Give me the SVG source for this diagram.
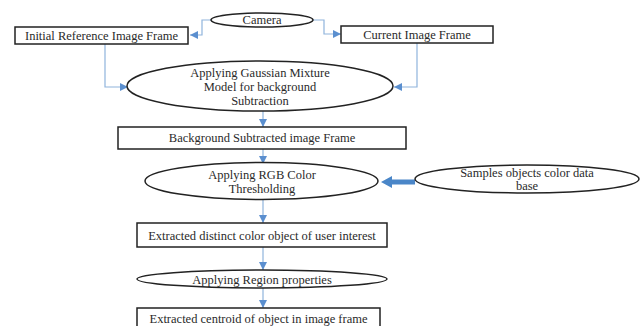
<svg xmlns="http://www.w3.org/2000/svg" width="643" height="326" viewBox="0 0 643 326">
  <style>
    .box { fill: #ffffff; stroke: #222222; stroke-width: 1.5; }
    .oval { fill: #ffffff; stroke: #222222; stroke-width: 1.5; }
    .lbl { font-family: "Liberation Serif", "Times New Roman", serif; font-size: 12.5px; fill: #2a2a2a; text-anchor: middle; }
    .wire { fill: none; stroke: #8fb4dc; stroke-width: 1.2; marker-end: url(#tip); }
  </style>
  <defs>
    <marker id="tip" viewBox="0 0 10 10" refX="10" refY="5" markerWidth="8" markerHeight="8" markerUnits="userSpaceOnUse" orient="auto">
      <path d="M0,0 L10,5 L0,10 z" fill="#5b8fcf"/>
    </marker>
  </defs>
  <rect width="643" height="326" fill="#ffffff"/>

  <g id="connectors">
    <polyline class="wire" points="211,20 202,20 202,35 190,35"/>
    <polyline class="wire" points="313,20 324,20 324,34 341,34"/>
    <polyline class="wire" points="105,44 105,87 128,87"/>
    <polyline class="wire" points="417,43 417,87 394,87"/>
    <line class="wire" x1="263" y1="111" x2="263" y2="127"/>
    <line class="wire" x1="263" y1="149" x2="263" y2="164"/>
    <line class="wire" x1="263" y1="200" x2="263" y2="223"/>
    <line class="wire" x1="263" y1="247" x2="263" y2="270"/>
    <line class="wire" x1="263" y1="288" x2="263" y2="308"/>
    <path d="M415,179.5 L392,179.5 L392,176 L381,182 L392,188 L392,184.5 L415,184.5 z" fill="#4a86c8"/>
  </g>

  <g id="camera">
    <ellipse class="oval" cx="262" cy="20" rx="51" ry="7"/>
    <text class="lbl" x="262" y="24">Camera</text>
  </g>

  <g id="initial-reference">
    <rect class="box" x="15" y="27" width="173" height="17"/>
    <text class="lbl" x="101.5" y="39.5">Initial Reference Image Frame</text>
  </g>

  <g id="current-frame">
    <rect class="box" x="341" y="26" width="152" height="17"/>
    <text class="lbl" x="417" y="38.5">Current Image Frame</text>
  </g>

  <g id="gmm">
    <ellipse class="oval" cx="260" cy="86" rx="133" ry="25"/>
    <text class="lbl" x="260" y="77">Applying Gaussian Mixture</text>
    <text class="lbl" x="260" y="91">Model for background</text>
    <text class="lbl" x="260" y="105">Subtraction</text>
  </g>

  <g id="background-subtracted">
    <rect class="box" x="118" y="127" width="288" height="22"/>
    <text class="lbl" x="262" y="142">Background Subtracted image Frame</text>
  </g>

  <g id="rgb-threshold">
    <ellipse class="oval" cx="261.5" cy="181" rx="116.5" ry="18.5"/>
    <text class="lbl" x="262" y="179">Applying RGB Color</text>
    <text class="lbl" x="262" y="193">Thresholding</text>
  </g>

  <g id="color-database">
    <ellipse class="oval" cx="527" cy="179" rx="112" ry="14"/>
    <text class="lbl" x="527" y="177">Samples objects color data</text>
    <text class="lbl" x="527" y="190">base</text>
  </g>

  <g id="extracted-object">
    <rect class="box" x="137" y="223" width="250" height="24"/>
    <text class="lbl" x="262" y="239.5">Extracted distinct color object of user interest</text>
  </g>

  <g id="region-properties">
    <ellipse class="oval" cx="262" cy="279" rx="125" ry="9"/>
    <text class="lbl" x="262" y="283.5">Applying Region properties</text>
  </g>

  <g id="centroid">
    <rect class="box" x="137" y="308" width="243" height="20"/>
    <text class="lbl" x="258.5" y="322.5">Extracted centroid of object in image frame</text>
  </g>
</svg>
